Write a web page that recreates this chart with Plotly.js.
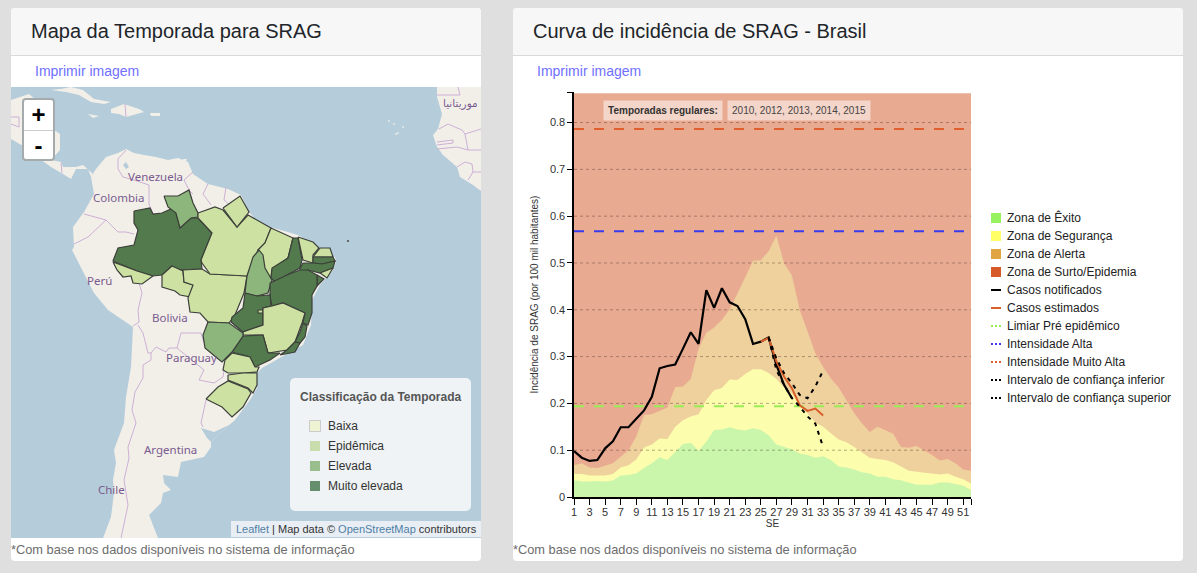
<!DOCTYPE html>
<html lang="pt-BR">
<head>
<meta charset="utf-8">
<title>SRAG</title>
<script src="https://cdn.plot.ly/plotly-3.0.1.min.js"></script>
<style>
html,body{margin:0;padding:0;width:1197px;height:573px;overflow:hidden;background:#dfdfdf;font-family:"Liberation Sans",Arial,sans-serif;}
.panel{position:absolute;top:8px;height:553px;background:#fff;border-radius:4px;overflow:hidden;}
.head{position:absolute;left:0;right:0;top:0;height:47px;background:#f7f7f7;border-bottom:1px solid #d9d9d9;font-size:20px;color:#212529;line-height:46px;padding-left:20px;}
.link{position:absolute;left:24px;top:55px;font-size:14px;color:#6f70ff;}
.foot{position:absolute;left:0;top:534px;font-size:12.8px;color:#6c6c6c;white-space:nowrap;}
#mapDiv{position:absolute;left:11px;top:87px;width:470px;height:451px;background:#b5ccda;overflow:hidden;}
#chartDiv{position:absolute;left:513px;top:85px;width:467px;height:450px;}
.zoomBox{position:absolute;left:22px;top:98px;width:29px;height:59px;border:2px solid #a5abad;border-radius:4px;background:#fff;color:#000;text-align:center;font-weight:bold;}
.zoomBox div{height:29.5px;line-height:29px;font-size:24px;}
.zoomBox div:first-child{border-bottom:1px solid #ccc;}
.mapLegend{position:absolute;left:290px;top:378px;width:181px;height:133px;border-radius:5px;background:#eff3f6;}
.mapLegend b{position:absolute;left:10px;top:12px;font-size:12px;color:#555;white-space:nowrap;}
.mapLegend span.t{position:absolute;left:38px;font-size:12px;color:#333;white-space:nowrap;}
.mapLegend i{position:absolute;left:20px;width:10px;height:10px;}
.attr{position:absolute;left:231px;top:521px;width:250px;height:16px;background:#e8eef3;font-size:11px;line-height:16px;color:#333;white-space:nowrap;padding-left:5px;box-sizing:border-box;}
.attr a{color:#4f7fa8;}
.lg{position:absolute;left:991px;font-size:12px;color:#222;white-space:nowrap;height:18px;line-height:18px;}
.lg span{position:absolute;left:16px;top:0;}
.lg i{position:absolute;left:0;}
</style>
</head>
<body>
<div class="panel" style="left:11px;width:470px;"><div class="head">Mapa da Temporada para SRAG</div><div class="link">Imprimir imagem</div><div class="foot">*Com base nos dados disponíveis no sistema de informação</div></div>
<div class="panel" style="left:513px;width:670px;"><div class="head">Curva de incidência de SRAG - Brasil</div><div class="link">Imprimir imagem</div><div class="foot">*Com base nos dados disponíveis no sistema de informação</div></div>
<div id="mapDiv"></div>
<div class="zoomBox"><div>+</div><div>-</div></div>
<div class="mapLegend" id="mapLegend"><b>Classificação da Temporada</b></div>
<div class="attr"><a>Leaflet</a> | Map data © <a>OpenStreetMap</a> contributors</div>
<div id="chartDiv"></div>
<div id="chartLegend"></div>
<script>
// ---------- chart data ----------
const weeks = [1,2,3,4,5,6,7,8,9,10,11,12,13,14,15,16,17,18,19,20,21,22,23,24,25,26,27,28,29,30,31,32,33,34,35,36,37,38,39,40,41,42,43,44,45,46,47,48,49,50,51,52];
const surtoTop = weeks.map(() => 0.8625);
const alertaTop = [.068,.072,.063,.062,.067,.072,.086,.100,.129,.175,.177,.184,.191,.235,.236,.252,.317,.351,.362,.378,.401,.435,.470,.505,.506,.525,.558,.499,.473,.399,.354,.307,.278,.253,.234,.207,.179,.157,.139,.150,.142,.135,.107,.105,.109,.100,.090,.078,.081,.072,.059,.056];
const segurancaTop = [.049,.049,.046,.046,.046,.049,.063,.068,.080,.106,.112,.125,.124,.150,.164,.172,.177,.207,.228,.233,.251,.250,.263,.273,.273,.265,.252,.234,.221,.196,.179,.159,.150,.136,.123,.117,.107,.095,.084,.081,.079,.074,.065,.056,.054,.052,.050,.048,.050,.043,.038,.029];
const exitoTop = [.036,.033,.033,.034,.033,.035,.046,.047,.050,.062,.072,.085,.079,.095,.113,.116,.099,.118,.143,.144,.149,.144,.142,.147,.143,.132,.112,.107,.102,.093,.090,.084,.087,.079,.065,.063,.059,.053,.050,.043,.043,.038,.036,.031,.026,.026,.026,.031,.031,.028,.024,.015];
const notifWeeks = weeks.slice(0,29);
const notificados = [.098,.084,.077,.079,.104,.119,.149,.149,.167,.185,.214,.275,.280,.283,.317,.352,.327,.442,.404,.446,.416,.408,.380,.327,.332,.341,.282,.239,.211];
const estWeeks = [25,26,27,28,29,30,31,32,33];
const estimados = [.332,.340,.290,.257,.232,.196,.184,.189,.174];
const ciWeeks = [26,27,28,29,30,31,32,33];
const ciInferior = [.341,.271,.239,.211,.193,.172,.157,.107];
const ciSuperior = [.341,.296,.264,.243,.218,.211,.236,.270];
const limiarPre = 0.194, intensAlta = 0.568, intensMuitoAlta = 0.786;
const yTicks = [0,.1,.2,.3,.4,.5,.6,.7,.8];
const yLabels = ['0','0.1','0.2','0.3','0.4','0.5','0.6','0.7','0.8'];
const xTicks = [1,3,5,7,9,11,13,15,17,19,21,23,25,27,29,31,33,35,37,39,41,43,45,47,49,51];
const legendNames = ['Zona de Êxito','Zona de Segurança','Zona de Alerta','Zona de Surto/Epidemia','Casos notificados','Casos estimados','Limiar Pré epidêmico','Intensidade Alta','Intensidade Muito Alta','Intervalo de confiança inferior','Intervalo de confiança superior'];
const legendColors = ['#98f25f','#ffff66','#e0a542','#d55a27','#000000','#d85f2a','#97ee55','#3a3aee','#e0602d','#000000','#000000'];
const legendKinds = ['box','box','box','box','line','line','dot','dot','dot','dot','dot'];

// ---------- map data (projected map coordinates) ----------
const landSouthAmerica = [91,177,96,169,106,157,118,153,126,149,134,153,144,155,156,157,168,160,178,158,188,162,193,174,208,184,228,189,241,195,249,212,260,224,280,230,298,235,320,249,335,257,336,262,333,270,320,285,312,300,311,325,303,345,285,355,262,368,255,375,257,388,250,400,235,420,229,425,211,442,211,447,204,457,181,462,178,477,163,475,164,483,171,490,163,493,161,503,149,515,158,538,103,538,111,517,114,493,113,480,116,463,114,450,124,423,126,397,131,367,133,327,108,310,94,293,79,263,72,250,74,247,73,227,84,212,94,194];
const landCentral = [91,177,88,169,76,169,71,179,63,174,51,167,44,162,30,150,11,139,11,100,29,94,36,100,54,130,60,134,60,150,51,160,61,162,63,167,76,167,83,165,93,174];
const landCuba = [51,90,61,89,71,87,83,90,94,99,111,102,104,104,91,102,79,95,66,92];
const landHispaniola = [111,109,124,104,139,109,144,112,126,117,119,114,111,113];
const landJamaica = [88,114,99,116,93,118];
const landPuertoRico = [150,113,160,113,160,116,151,116];
const landTrinidad = [183,159,187,159,186,162,183,162];
const landAfrica = [437,87,437,97,442,114,438,129,433,135,437,147,443,155,457,167,460,177,473,185,481,191,481,87];
const waterPlate = [201,428,214,432,229,425,211,442,207,438];
const waterMaracaibo = [126,162,129,167,126,169,123,165];
const countryBorders = [
 [126,150,118,159,118,169,123,177,134,180,149,185,149,204,153,214],
 [193,172,184,180,189,190,193,194],[208,184,203,194,211,205],[226,187,224,200,231,206],
 [74,244,88,237,106,220,118,232,126,232,134,234],[84,214,106,220],
 [139,283,142,293,138,310,139,322,133,326],[138,325,143,333,148,353,151,353],
 [151,353,156,347,166,352,169,348,177,348],[177,348,181,333,201,333,204,343],
 [177,348,204,370,199,380,214,383,223,377,224,370],
 [151,353,151,360,143,365,143,378,135,392,132,410,136,423,128,447,129,458,124,480,128,505,121,538],
 [206,400,201,423,203,427],[125,104,126,117],[61,163,62,173],[11,117,19,117,19,127,11,124],
 [437,95,460,95,458,87],[439,129,448,124,462,130,465,134,481,129],[465,134,468,150,481,150],
 [437,142,453,140,453,143,437,145],[437,149,457,147,468,150],[457,167,465,162,472,164,473,172,468,180],[473,172,481,172]];
const stateNames = ['Amazonas','Roraima','Acre','Rondônia','Mato Grosso','Pará','Amapá','Maranhão','Tocantins','Piauí','Ceará','Rio Grande do Norte','Paraíba','Pernambuco','Alagoas','Sergipe','Bahia','Goiás','Distrito Federal','Minas Gerais','Espírito Santo','Rio de Janeiro','São Paulo','Mato Grosso do Sul','Paraná','Santa Catarina','Rio Grande do Sul'];
const stateClass = [3,2,1,1,1,1,1,1,2,3,1,1,3,3,1,3,3,3,1,1,3,3,3,2,1,1,1];
const stateOutlines = [
 [134,211,150,208,153,214,162,213,173,208,176,213,180,228,185,223,191,218,198,218,212,233,201,260,202,269,178,270,172,266,162,275,153,276,137,271,113,261,118,248,134,245,138,230,134,223],
 [164,196,178,196,189,190,193,203,198,213,198,217,191,218,180,228,176,213,168,207],
 [113,262,137,271,153,276,142,284,133,283,131,276,123,277,117,270],
 [172,266,183,271,184,282,193,285,191,297,180,295,175,291,162,287,162,275],
 [183,270,202,269,210,274,247,276,244,293,235,315,229,323,208,322,200,313,190,312,188,298,193,285,184,282],
 [198,213,215,207,223,210,237,227,248,215,271,228,265,243,258,250,253,263,247,276,210,274,202,263,201,260,212,233,198,218],
 [223,208,240,196,249,212,237,227],
 [271,228,293,238,288,258,272,270,271,278,265,273,258,250,265,243],
 [259,250,263,255,265,268,272,280,268,293,257,296,245,293,247,276,253,257],
 [293,238,298,238,302,260,300,268,287,275,282,280,275,282,271,278,272,268,288,258],
 [298,237,313,242,319,248,313,255,313,263,303,260],
 [320,248,330,248,333,257,313,257],
 [313,257,333,257,335,261,322,264,313,263],
 [303,263,313,263,322,264,335,261,333,268,320,273,308,270,300,272,300,268],
 [320,273,333,268,327,278],
 [317,275,324,279,317,286],
 [270,283,287,275,300,270,308,270,317,275,317,286,312,295,312,313,308,325,303,323,305,313,283,303,272,306,270,297],
 [245,293,257,296,270,295,271,306,263,308,263,325,243,332,231,322,232,317,243,308],
 [258,310,263,310,263,313,258,313],
 [272,306,283,303,305,313,302,323,295,342,287,350,268,353,263,335,243,335,243,332,263,325,263,308],
 [303,323,307,326,305,337,300,343,295,342,300,332],
 [295,342,300,343,295,352,280,355,287,350],
 [243,336,263,335,268,353,280,353,270,360,255,367,250,357,232,352],
 [208,322,229,323,243,333,243,336,232,352,222,362,217,358,205,348,203,335],
 [232,353,250,357,255,367,259,367,257,372,243,373,228,373,223,370,225,360],
 [228,375,243,373,257,373,257,385,253,393,248,388,228,380],
 [206,399,218,387,228,381,248,389,251,393,243,407,232,417,222,407]];
const speckX = [348,389,394,398,403,396];
const speckY = [241,121,124,133,127,134];
const classColors = ['#edf3d2','#cde2a2','#8db67c','#527a4c'];
const classNames = ['Baixa','Epidêmica','Elevada','Muito elevada'];
const legendClassColors = ['#eef3d3','#c9dcab','#9abd8e','#658f6c'];
const placeNames = ['Venezuela','Colombia','Perú','Bolivia','Paraguay','Argentina','Chile','موريتانيا'];
const placeX = [155,118,99,170,191,170,111,480];
const placeY = [176,197,280,317,357,449,489,103];
const placeAnchor = ['center','center','center','center','center','center','center','right'];
const placeSize = [11.5,11.5,11.5,11.5,11.5,11.5,11.5,10.5];

// ---------- helpers ----------
const xs = f => f.filter((v,i) => i % 2 === 0);
const ys = f => f.filter((v,i) => i % 2 === 1);

// ---------- map ----------
const LAND = '#f2efe9', OCEAN = '#b5ccda';
const poly = (f, color) => ({type:'scatter', mode:'lines', x:xs(f).concat(f[0]), y:ys(f).concat(f[1]), fill:'toself', fillcolor:color, line:{width:0, color:color}, hoverinfo:'skip', showlegend:false});
const mapTraces = [landSouthAmerica,landCentral,landCuba,landHispaniola,landJamaica,landPuertoRico,landTrinidad,landAfrica].map(f => poly(f, LAND));
mapTraces.push(poly(waterPlate, OCEAN), poly(waterMaracaibo, OCEAN));
countryBorders.forEach(f => mapTraces.push({type:'scatter', mode:'lines', x:xs(f), y:ys(f), line:{width:1, color:'#cdb0d6'}, hoverinfo:'skip', showlegend:false}));
stateOutlines.forEach((f,i) => mapTraces.push({type:'scatter', mode:'lines', name:stateNames[i], x:xs(f).concat(f[0]), y:ys(f).concat(f[1]), fill:'toself', fillcolor:classColors[stateClass[i]], line:{width:1.2, color:'#3c3f3a'}, hoverinfo:'name', showlegend:false}));
mapTraces.push({type:'scatter', mode:'markers', x:speckX, y:speckY, marker:{size:2, color:['#444','#e6e8e6','#e6e8e6','#e6e8e6','#e6e8e6','#e6e8e6']}, hoverinfo:'skip', showlegend:false});
Plotly.newPlot('mapDiv', mapTraces, {
  width:470, height:451, margin:{l:0,r:0,t:0,b:0}, paper_bgcolor:OCEAN, plot_bgcolor:OCEAN, showlegend:false,
  xaxis:{range:[11,481], visible:false, fixedrange:true},
  yaxis:{range:[538,87], visible:false, fixedrange:true},
  annotations: placeNames.map((t,i) => ({text:t, x:placeX[i], y:placeY[i], xref:'x', yref:'y', xanchor:placeAnchor[i], yanchor:'middle', showarrow:false, font:{family:'"Noto Sans","DejaVu Sans",sans-serif', size:placeSize[i], color:'#7a5b8f'}}))
}, {staticPlot:true, displayModeBar:false});

classNames.forEach((n,i) => {
  const top = 43 + i*20, box = document.getElementById('mapLegend');
  box.insertAdjacentHTML('beforeend', `<i style="top:${top}px;background:${legendClassColors[i]};${i===0?'outline:1px solid #ccc;':''}"></i><span class="t" style="top:${top-2}px">${n}</span>`);
});

// ---------- chart ----------
const area = (y, color, name) => ({type:'scatter', mode:'lines', x:weeks, y:y, fill:'tozeroy', fillcolor:color, line:{width:0, color:color}, name:name, hoverinfo:'skip', showlegend:false});
const path = (x, y, color, width, dash, name) => ({type:'scatter', mode:'lines', x:x, y:y, line:{color:color, width:width, dash:dash}, name:name, hoverinfo:'skip', showlegend:false});
const flat = v => [v, v];
const ends = [1, 52];
const chartTraces = [
  area(surtoTop, '#e9aa92', legendNames[3]),
  area(alertaTop, '#efd19d', legendNames[2]),
  area(segurancaTop, '#fdfdae', legendNames[1]),
  area(exitoTop, '#c9f6ab', legendNames[0])
];
yTicks.slice(1).forEach(t => chartTraces.push(path(ends, flat(t), 'rgba(60,40,30,0.38)', 1, '3px,3px', 'grid')));
chartTraces.push(
  path(ends, flat(limiarPre), '#97ee55', 2, '10px,10px', legendNames[6]),
  path(ends, flat(intensAlta), '#3a3aee', 2, '10px,10px', legendNames[7]),
  path(ends, flat(intensMuitoAlta), '#e0602d', 2, '10px,10px', legendNames[8]),
  path(notifWeeks, notificados, '#000', 2.2, 'solid', legendNames[4]),
  path(estWeeks, estimados, '#d85f2a', 2, 'solid', legendNames[5]),
  path(ciWeeks, ciInferior, '#000', 2, '4px,5px', legendNames[9]),
  path(ciWeeks, ciSuperior, '#000', 2, '4px,5px', legendNames[10])
);
const axisFont = {family:'"Liberation Sans",Arial,sans-serif', size:11, color:'#333'};
Plotly.newPlot('chartDiv', chartTraces, {
  width:467, height:450, margin:{l:61,r:9,t:7,b:37.5}, paper_bgcolor:'rgba(0,0,0,0)', plot_bgcolor:'rgba(0,0,0,0)', showlegend:false,
  xaxis:{range:[1,52], tickmode:'array', tickvals:xTicks.concat(52), ticktext:xTicks.map(String).concat(''), ticks:'outside', ticklen:6, tickwidth:1, tickcolor:'#000', showline:true, linecolor:'#000', linewidth:1.6, showgrid:false, zeroline:false, tickfont:axisFont, ticklabelstandoff:-2, title:{text:'SE', standoff:3, font:{family:axisFont.family, size:10, color:'#333'}}, fixedrange:true},
  yaxis:{range:[0,0.8653], tickmode:'array', tickvals:yTicks.concat(0.8653), ticktext:yLabels.concat(''), ticks:'outside', ticklen:5, tickwidth:1, tickcolor:'#000', showline:true, linecolor:'#000', linewidth:1.6, showgrid:false, zeroline:false, tickfont:axisFont, title:{text:'Incidência de SRAG (por 100 mil habitantes)', standoff:9, font:{family:axisFont.family, size:10, color:'#333'}}, fixedrange:true},
  annotations:[
    {text:'<b>Temporadas regulares:</b>', xref:'x', yref:'y', x:12.48, y:0.825, width:116, height:17, showarrow:false, bgcolor:'rgba(255,255,255,0.5)', font:{family:axisFont.family, size:10, color:'#333'}},
    {text:'2010, 2012, 2013, 2014, 2015', xref:'x', yref:'y', x:29.94, y:0.825, width:140, height:17, showarrow:false, bgcolor:'rgba(255,255,255,0.5)', font:{family:axisFont.family, size:10, color:'#444'}}
  ]
}, {staticPlot:true, displayModeBar:false});

// ---------- chart legend ----------
const lgBox = document.getElementById('chartLegend');
legendNames.forEach((n,i) => {
  const top = 209 + i*18;
  let mark = '';
  if (legendKinds[i] === 'box') mark = `<i style="top:4px;width:10px;height:10px;background:${legendColors[i]}"></i>`;
  else if (legendKinds[i] === 'line') mark = `<i style="top:8px;width:10px;height:2px;background:${legendColors[i]}"></i>`;
  else mark = `<i style="top:8px;width:10px;height:2px;background:repeating-linear-gradient(90deg,${legendColors[i]} 0 2px,transparent 2px 4px)"></i>`;
  lgBox.insertAdjacentHTML('beforeend', `<div class="lg" style="top:${top}px">${mark}<span>${n}</span></div>`);
});
</script>
</body>
</html>
